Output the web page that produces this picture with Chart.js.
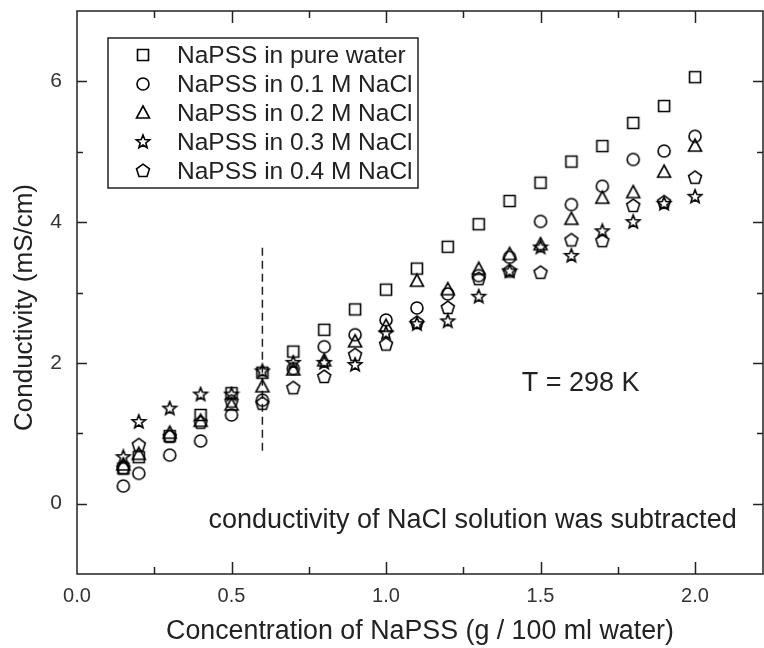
<!DOCTYPE html>
<html>
<head>
<meta charset="utf-8">
<title>NaPSS conductivity</title>
<script src="https://cdn.jsdelivr.net/npm/chart.js@4.4.1/dist/chart.umd.min.js"></script>
<style>
  html, body { margin: 0; padding: 0; background: #fff; }
  #wrap { width: 764px; height: 648px; }
</style>
</head>
<body>
<div id="wrap"><canvas id="chartCanvas" width="764" height="648"></canvas></div>
<script>
// concentration of NaPSS (g / 100 ml water)
var concentration = [0.15, 0.2, 0.3, 0.4, 0.5, 0.6, 0.7, 0.8, 0.9, 1.0, 1.1, 1.2, 1.3, 1.4, 1.5, 1.6, 1.7, 1.8, 1.9, 2.0]

// conductivity (mS/cm) per solvent
var pureWater = [0.50, 0.66, 0.96, 1.26, 1.57, 1.86, 2.16, 2.47, 2.76, 3.04, 3.34, 3.65, 3.97, 4.30, 4.56, 4.86, 5.08, 5.41, 5.65, 6.06]
var nacl01    = [0.25, 0.43, 0.69, 0.89, 1.26, 1.47, 1.92, 2.23, 2.40, 2.61, 2.78, 2.98, 3.24, 3.50, 4.01, 4.25, 4.51, 4.89, 5.01, 5.22]
var nacl02    = [0.55, 0.70, 1.00, 1.17, 1.40, 1.66, 1.90, 2.03, 2.30, 2.52, 3.16, 3.04, 3.33, 3.54, 3.68, 4.04, 4.34, 4.42, 4.71, 5.08]
var nacl03    = [0.66, 1.16, 1.35, 1.55, 1.55, 1.88, 2.00, 2.00, 1.97, 2.42, 2.55, 2.59, 2.94, 3.30, 3.64, 3.52, 3.87, 4.00, 4.26, 4.36]
var nacl04    = [0.50, 0.83, 0.95, 1.15, 1.45, 1.42, 1.64, 1.80, 2.11, 2.26, 2.57, 2.78, 3.19, 3.30, 3.28, 3.74, 3.73, 4.23, 4.28, 4.63]

var seriesNames = ['NaPSS in pure water', 'NaPSS in 0.1 M NaCl', 'NaPSS in 0.2 M NaCl', 'NaPSS in 0.3 M NaCl', 'NaPSS in 0.4 M NaCl']
var seriesShapes = ['square', 'circle', 'triangle', 'star', 'pentagon']

// dashed marker at 0.6 g / 100 ml
var markerX = [0.6, 0.6]
var markerY = [0.75, 3.67]

var xTicks = { min: 0, max: 2.22, step: 0.25 }
var yTicks = { min: -1, max: 7, step: 1 }

var xTitle = 'Concentration of NaPSS (g / 100 ml water)'
var yTitle = 'Conductivity (mS/cm)'
var notes = [
  { text: 'T = 298 K', x: 1.63, y: 1.70 },
  { text: 'conductivity of NaCl solution was subtracted', x: 1.28, y: -0.24 }
]

var FONT = 'Arial, "Liberation Sans", sans-serif'
var INK = '#222'

// open symbols drawn once into small canvases, used as pointStyle
function makeMarker(shape) {
  var c = document.createElement('canvas')
  c.width = 18
  c.height = 18
  var g = c.getContext('2d')
  g.strokeStyle = '#000'
  g.lineWidth = 1.6
  g.translate(9, 9)
  g.beginPath()
  if (shape == 'square') {
    g.rect(-5.5, -5.5, 11, 11)
  } else if (shape == 'circle') {
    g.arc(0, 0, 6, 0, Math.PI * 2)
  } else if (shape == 'triangle') {
    g.moveTo(0, -7)
    g.lineTo(6.5, 5)
    g.lineTo(-6.5, 5)
    g.closePath()
  } else if (shape == 'star') {
    for (var i = 0; i < 10; i++) {
      var r = i % 2 == 0 ? 7 : 3
      var a = -Math.PI / 2 + i * Math.PI / 5
      if (i == 0) g.moveTo(r * Math.cos(a), r * Math.sin(a))
      else g.lineTo(r * Math.cos(a), r * Math.sin(a))
    }
    g.closePath()
  } else if (shape == 'pentagon') {
    for (var j = 0; j < 5; j++) {
      var b = -Math.PI / 2 + j * 2 * Math.PI / 5
      if (j == 0) g.moveTo(6.8 * Math.cos(b), 6.8 * Math.sin(b))
      else g.lineTo(6.8 * Math.cos(b), 6.8 * Math.sin(b))
    }
    g.closePath()
  }
  g.stroke()
  return c
}

var markers = seriesShapes.map(makeMarker)
var allSeries = [pureWater, nacl01, nacl02, nacl03, nacl04]

var datasets = allSeries.map(function (values, k) {
  return {
    label: seriesNames[k],
    data: concentration.map(function (x, i) { return { x: x, y: values[i] } }),
    pointStyle: markers[k],
    pointRadius: 6,
    showLine: false
  }
})

datasets.push({
  label: 'marker',
  data: markerX.map(function (x, i) { return { x: x, y: markerY[i] } }),
  showLine: true,
  pointRadius: 0,
  borderColor: INK,
  borderWidth: 1.5,
  borderDash: [8, 5]
})

// box around the plot with inward ticks on all four sides
var framePlugin = {
  id: 'frame',
  afterDatasetsDraw: function (chart) {
    var ctx = chart.ctx
    var a = chart.chartArea
    var sx = chart.scales.x
    var sy = chart.scales.y
    ctx.save()
    ctx.strokeStyle = INK
    ctx.lineWidth = 1.5
    ctx.beginPath()
    sx.ticks.forEach(function (t) {
      var px = Math.round(sx.getPixelForValue(t.value)) + 0.5
      if (px <= a.left + 1 || px >= a.right - 1) return
      var len = t.label ? 12 : 7
      ctx.moveTo(px, a.bottom)
      ctx.lineTo(px, a.bottom - len)
      ctx.moveTo(px, a.top)
      ctx.lineTo(px, a.top + len)
    })
    sy.ticks.forEach(function (t) {
      var py = Math.round(sy.getPixelForValue(t.value)) + 0.5
      if (py <= a.top + 1 || py >= a.bottom - 1) return
      var len = t.label ? 10 : 6
      ctx.moveTo(a.left, py)
      ctx.lineTo(a.left + len, py)
      ctx.moveTo(a.right, py)
      ctx.lineTo(a.right - len, py)
    })
    ctx.stroke()
    ctx.strokeRect(a.left, a.top, a.right - a.left, a.bottom - a.top)
    ctx.restore()
  }
}

// legend box inside the plot, notes and the vertical axis title
var textPlugin = {
  id: 'texts',
  afterDraw: function (chart) {
    var ctx = chart.ctx
    var a = chart.chartArea
    var sx = chart.scales.x
    var sy = chart.scales.y
    ctx.save()

    var boxL = a.left + 31, boxT = a.top + 27, boxW = 310, boxH = 150
    ctx.strokeStyle = INK
    ctx.lineWidth = 1.5
    ctx.strokeRect(boxL, boxT, boxW, boxH)
    ctx.font = '24.5px ' + FONT
    ctx.fillStyle = INK
    ctx.textBaseline = 'middle'
    ctx.textAlign = 'left'
    seriesNames.forEach(function (name, k) {
      var rowY = boxT + 17 + k * 29
      var m = markers[k]
      ctx.drawImage(m, boxL + 35 - m.width / 2, rowY - m.height / 2)
      ctx.fillText(name, boxL + 69, rowY + 1)
    })

    ctx.font = '27px ' + FONT
    ctx.textAlign = 'center'
    notes.forEach(function (n) {
      ctx.fillText(n.text, sx.getPixelForValue(n.x), sy.getPixelForValue(n.y))
    })

    ctx.translate(25, (a.top + a.bottom) / 2 + 15)
    ctx.rotate(-Math.PI / 2)
    ctx.font = '26px ' + FONT
    ctx.fillText(yTitle, 0, 0)
    ctx.restore()
  }
}

var ctx = document.getElementById('chartCanvas')
var myChart = new Chart(ctx, {
  type: 'scatter',
  data: { datasets: datasets },
  plugins: [framePlugin, textPlugin],
  options: {
    responsive: false,
    animation: false,
    events: [],
    devicePixelRatio: 1,
    layout: { autoPadding: false, padding: { top: 11, right: 1, left: 0, bottom: 0 } },
    plugins: {
      legend: { display: false },
      tooltip: { enabled: false }
    },
    scales: {
      x: {
        type: 'linear',
        min: xTicks.min,
        max: xTicks.max,
        border: { display: false },
        grid: { display: false, drawTicks: false },
        ticks: {
          stepSize: xTicks.step,
          includeBounds: false,
          autoSkip: false,
          maxRotation: 0,
          padding: 10,
          color: '#333',
          font: { family: FONT, size: 20 },
          callback: function (v) {
            return Math.abs(v * 2 - Math.round(v * 2)) < 1e-6 ? v.toFixed(1) : ''
          }
        },
        title: {
          display: true,
          text: xTitle,
          color: INK,
          font: { family: FONT, size: 26.8 },
          padding: { top: 0, bottom: 0 }
        },
        afterFit: function (scale) {
          scale.height = 74
          scale.paddingLeft = 0
          scale.paddingRight = 0
        }
      },
      y: {
        type: 'linear',
        min: yTicks.min,
        max: yTicks.max,
        border: { display: false },
        grid: { display: false, drawTicks: false },
        ticks: {
          stepSize: yTicks.step,
          autoSkip: false,
          padding: 15,
          color: '#333',
          font: { family: FONT, size: 21 },
          callback: function (v) {
            return v % 2 === 0 ? String(v) : ''
          }
        },
        afterFit: function (scale) {
          scale.width = 77
          scale.paddingTop = 0
          scale.paddingBottom = 0
          scale.paddingLeft = 0
          scale.paddingRight = 0
        }
      }
    }
  }
})
</script>
</body>
</html>
